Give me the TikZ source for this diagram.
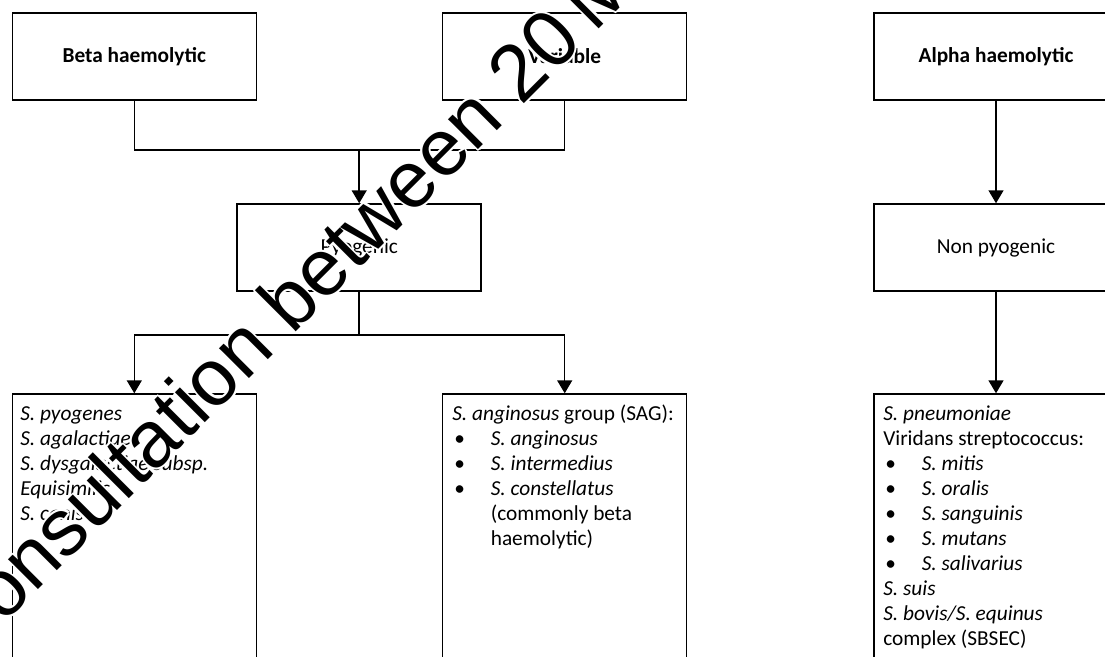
\documentclass[tikz,border=0pt]{standalone}
\usepackage{fontspec}
\setmainfont{Carlito}
\newfontfamily\wmfont{Liberation Sans}
\usetikzlibrary{arrows.meta}
\newcommand\mybul{\makebox[28.9pt][l]{\hspace{1.5pt}\textbullet}}
\newcommand\myind{\hspace*{28.9pt}}
\newcommand\wmtext{Consultation between 20\hspace{-0.1em} M}
\begin{document}
\begin{tikzpicture}[x=0.75pt,y=-0.75pt,
  box/.style={draw, line width=1.1pt, minimum width=183pt, minimum height=65.25pt, inner sep=0pt, font=\fontsize{16}{18.75}\selectfont},
  tallbox/.style={box, minimum height=240pt},
  txt/.style={anchor=north west, align=left, inner sep=0pt, font=\fontsize{16}{18.75}\selectfont},
  conn/.style={line width=1.1pt},
  arr/.style={conn, -{Triangle[width=11.25pt,length=9.75pt]}},
  wm/.style={inner sep=0pt, rotate=45, anchor=base west, font=\wmfont\fontsize{60}{62}\selectfont}
]
\useasboundingbox (0,0) rectangle (1105,656);
\clip (0,0) rectangle (1105,656);
\fill[white] (0,0) rectangle (1105,656);
% top row
\node[box] (beta) at (134.3,56.5) {\bfseries Beta haemolytic};
\node[box] (var) at (564.7,56.5) {\bfseries Variable};
\node[box] (alpha) at (996,56.5) {\bfseries Alpha haemolytic};
% middle row
\node[box] (pyo) at (359.2,247.5) {Pyogenic};
\node[box] (npyo) at (996,247.5) {Non pyogenic};
% bottom row
\node[tallbox, anchor=north] (lbox) at (134.3,393.3) {};
\node[tallbox, anchor=north] (mbox) at (564.7,393.3) {};
\node[tallbox, anchor=north] (rbox) at (996,393.3) {};
% texts
\node[txt] (ltxt) at (20,402.5) {\strut\textit{S. pyogenes}\\ \textit{S. agalactiae}\\ \textit{S. dysgalactiae subsp.}\\ \textit{Equisimilis}\\ \textit{S. canis}};
\node[txt] (mtxt) at (452,402.5) {\strut\textit{S. anginosus} group (SAG):\\ \mybul\textit{S. anginosus}\\ \mybul\textit{S. intermedius}\\ \mybul\textit{S. constellatus}\\ \myind(commonly beta\\ \myind haemolytic)};
\node[txt] (rtxt) at (883,402.5) {\strut\textit{S. pneumoniae}\\ Viridans streptococcus:\\ \mybul\textit{S. mitis}\\ \mybul\textit{S. oralis}\\ \mybul\textit{S. sanguinis}\\ \mybul\textit{S. mutans}\\ \mybul\textit{S. salivarius}\\ \textit{S. suis}\\ \textit{S. bovis/S. equinus}\\ complex (SBSEC)};
% connectors
\coordinate (j1) at (359.2,150);
\coordinate (j2) at (359.2,335);
\draw[conn] (beta.south) |- (j1) -| (var.south);
\draw[arr] (j1) -- (pyo.north);
\draw[conn] (pyo.south) -- (j2);
\draw[arr] (j2) -| (lbox.north);
\draw[arr] (j2) -| (mbox.north);
\draw[arr] (alpha.south) -- (npyo.north);
\draw[arr] (npyo.south) -- (rbox.north);
% watermark with thin white halo
\coordinate (wmo) at (-38,666);
\foreach \dx/\dy [count=\k] in {2/0,-2/0,0/2,0/-2,1.4/1.4,-1.4/1.4,1.4/-1.4,-1.4/-1.4}
  \node[wm, text=white] (wmh\k) at ([shift={(\dx,\dy)}]wmo) {\wmtext};
\node[wm] (wmark) at (wmo) {\wmtext};
\end{tikzpicture}
\end{document}
